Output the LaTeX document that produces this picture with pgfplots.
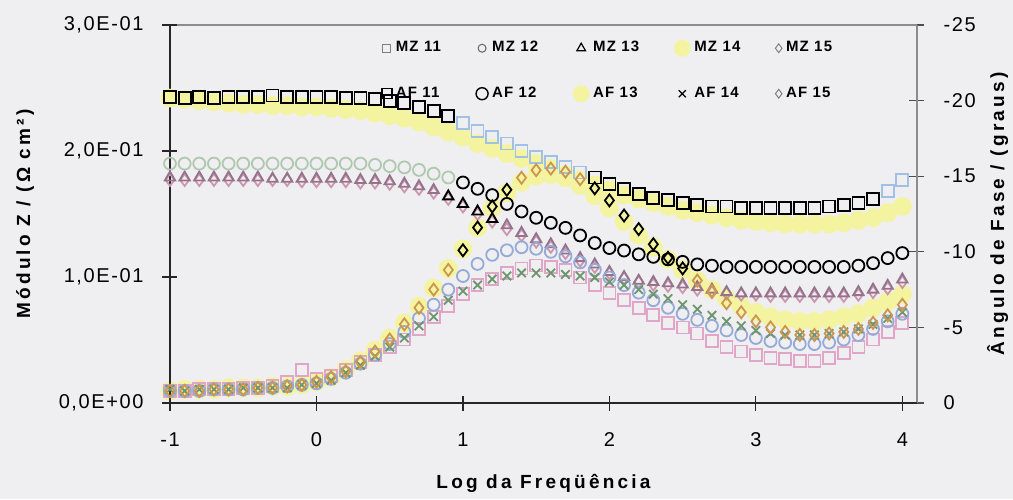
\documentclass[border=0pt]{standalone}
\usepackage{fontspec}
\setmainfont{Liberation Sans}
\usepackage{pgfplots}
\usepackage{pgfplotstable}
\pgfplotsset{compat=1.18}
\newfontfamily\tickf[LetterSpace=8]{Liberation Sans}
\newfontfamily\labf[LetterSpace=17]{Liberation Sans}

\definecolor{bg}{RGB}{239,239,241}
\definecolor{ylw}{RGB}{244,244,160}
\definecolor{lblue}{RGB}{160,192,228}
\definecolor{lgreen}{RGB}{176,200,176}
\definecolor{mauve}{RGB}{150,115,140}
\definecolor{pinkd}{RGB}{205,150,175}
\definecolor{pinks}{RGB}{225,165,200}
\definecolor{bluec}{RGB}{150,170,215}
\definecolor{greenx}{RGB}{110,150,110}
\definecolor{tanc}{RGB}{205,150,80}

\pgfplotstableread{
x mz11 mz12 mz13 mz14 mz15 af11 af12 af13 af14 af15
-1.0 .243 .190 .179 .242 .177 -0.8 -0.8 -0.8 -0.9 -0.8
-0.9 .242 .190 .179 .241 .177 -0.8 -0.8 -0.9 -0.8 -0.8
-0.8 .243 .190 .179 .240 .177 -0.9 -0.8 -0.9 -0.9 -0.8
-0.7 .242 .190 .179 .239 .177 -0.9 -0.9 -0.9 -0.9 -0.9
-0.6 .243 .190 .179 .238 .177 -0.9 -0.9 -1.0 -0.9 -0.9
-0.5 .243 .190 .179 .237 .177 -1.0 -0.9 -1.0 -1.0 -0.9
-0.4 .243 .190 .179 .237 .177 -1.0 -1.0 -1.0 -1.0 -1.0
-0.3 .244 .190 .178 .236 .177 -1.1 -1.0 -1.1 -1.0 -1.0
-0.2 .243 .190 .178 .236 .177 -1.4 -1.1 -1.1 -1.0 -1.1
-0.1 .243 .190 .178 .235 .176 -2.2 -1.2 -1.2 -1.2 -1.2
0.0 .243 .190 .178 .235 .176 -1.6 -1.3 -1.4 -1.3 -1.4
0.1 .243 .190 .178 .234 .176 -1.8 -1.6 -1.7 -1.5 -1.7
0.2 .242 .190 .178 .233 .176 -2.2 -2.0 -2.2 -2.0 -2.1
0.3 .242 .190 .177 .232 .175 -2.7 -2.6 -2.8 -2.5 -2.7
0.4 .241 .189 .177 .230 .175 -3.2 -3.2 -3.5 -3.1 -3.4
0.5 .240 .188 .176 .228 .174 -3.7 -3.9 -4.3 -3.7 -4.2
0.6 .238 .187 .174 .226 .172 -4.2 -4.7 -5.3 -4.3 -5.2
0.7 .235 .185 .172 .223 .170 -4.9 -5.6 -6.4 -5.1 -6.3
0.8 .232 .182 .169 .219 .167 -5.7 -6.5 -7.6 -5.7 -7.5
0.9 .228 .179 .164 .215 .162 -6.4 -7.5 -8.9 -6.8 -8.8
1.0 .222 .175 .158 .211 .156 -7.2 -8.4 -10.2 -7.4 -10.1
1.1 .216 .170 .152 .206 .150 -7.8 -9.2 -11.6 -7.8 -11.6
1.2 .211 .165 .146 .202 .144 -8.2 -9.8 -12.9 -8.2 -13.0
1.3 .206 .158 .141 .198 .138 -8.6 -10.1 -13.9 -8.4 -14.1
1.4 .200 .152 .135 .194 .133 -8.9 -10.3 -14.6 -8.6 -14.9
1.5 .195 .147 .130 .190 .128 -9.1 -10.2 -15.0 -8.6 -15.4
1.6 .191 .143 .126 .186 .124 -9.0 -10.0 -15.1 -8.6 -15.5
1.7 .187 .139 .121 .181 .119 -8.8 -9.7 -14.9 -8.5 -15.3
1.8 .183 .133 .115 .177 .113 -8.3 -9.3 -14.4 -8.4 -14.8
1.9 .179 .127 .110 .173 .108 -7.8 -8.8 -13.7 -8.3 -14.2
2.0 .174 .123 .104 .169 .103 -7.3 -8.3 -12.9 -8.0 -13.4
2.1 .170 .121 .100 .165 .099 -6.8 -7.8 -12.0 -7.8 -12.4
2.2 .166 .118 .097 .162 .096 -6.3 -7.3 -11.1 -7.5 -11.5
2.3 .163 .116 .096 .159 .094 -5.8 -6.8 -10.3 -7.2 -10.5
2.4 .161 .114 .095 .156 .093 -5.3 -6.3 -9.5 -6.9 -9.6
2.5 .159 .112 .094 .153 .092 -5.0 -5.9 -8.8 -6.5 -8.9
2.6 .157 .110 .092 .151 .090 -4.6 -5.5 -8.1 -6.2 -8.1
2.7 .156 .109 .090 .149 .088 -4.1 -5.1 -7.5 -5.8 -7.4
2.8 .156 .108 .088 .147 .087 -3.7 -4.8 -6.9 -5.4 -6.6
2.9 .155 .108 .087 .145 .086 -3.4 -4.5 -6.4 -5.1 -6.0
3.0 .155 .108 .087 .144 .086 -3.2 -4.3 -6.0 -4.8 -5.4
3.1 .155 .108 .087 .143 .085 -3.0 -4.1 -5.7 -4.6 -5.0
3.2 .155 .108 .087 .142 .085 -2.9 -4.0 -5.5 -4.5 -4.7
3.3 .155 .108 .087 .142 .085 -2.8 -3.9 -5.4 -4.5 -4.5
3.4 .155 .108 .087 .142 .085 -2.8 -3.9 -5.4 -4.5 -4.5
3.5 .156 .108 .087 .142 .085 -3.0 -4.0 -5.5 -4.6 -4.6
3.6 .157 .108 .087 .143 .085 -3.3 -4.2 -5.7 -4.7 -4.7
3.7 .159 .109 .088 .145 .086 -3.7 -4.5 -5.9 -4.9 -4.9
3.8 .162 .111 .090 .147 .088 -4.2 -4.9 -6.3 -5.2 -5.3
3.9 .168 .115 .093 .151 .091 -4.7 -5.4 -6.7 -5.6 -5.8
4.0 .177 .119 .098 .156 .096 -5.3 -5.9 -7.2 -6.0 -6.5
}\data

\pgfplotsset{
  base/.style={width=373.5pt, height=189pt, scale only axis, xmin=-1, xmax=4.1,
    at={(0,0)}, anchor=south west, clip=false,
    major tick length=7.5pt, tick align=center,
    tick label style={font=\tickf\fontsize{10}{12}\selectfont},
  },
  pm/.style={only marks, mark size=3pt, line width=0.9pt},
}

\begin{document}
\begin{tikzpicture}
\path[use as bounding box, fill=bg] (-85pt,-48pt) rectangle (421.5pt,201.5pt);

% axis A: phase scale, right axis, yellow AF 13 underneath
\begin{axis}[base, ymin=-25, ymax=0, y dir=reverse,
  axis y line*=right, axis x line*=top, xtick=\empty,
  ytick={-25,-20,-15,-10,-5,0}, yticklabels={-25,-20,-15,-10,-5,0},
  yticklabel style={xshift=6pt},
  axis line style={black!45, line width=0.6pt},
  ytick style={black!70, line width=0.6pt},
  every axis y label/.style={at={(axis description cs:1.108,0.5)}, rotate=90, anchor=center},
  ylabel={\labf\bfseries\fontsize{9.5}{11}\selectfont Ângulo de Fase / (graus)},
]
\addplot[only marks, mark=*, mark size=4.5pt, color=ylw] table[x=x,y=af13]{\data};
\end{axis}

% axis B: modulus scale, left axis
\begin{axis}[base, ymin=0, ymax=0.3,
  axis x line*=bottom, axis y line*=left,
  xtick={-1,0,1,2,3,4}, xticklabels={-1,0,1,2,3,4},
  ytick={0,0.1,0.2,0.3}, yticklabels={{0,0E+00},{1,0E-01},{2,0E-01},{3,0E-01}},
  yticklabel style={xshift=-6pt},
  xticklabel style={yshift=-7.5pt},
  axis line style={black!85, line width=0.8pt},
  tick style={black!85, line width=0.6pt},
  every axis y label/.style={at={(axis description cs:-0.194,0.5)}, rotate=90, anchor=center},
  every axis x label/.style={at={(axis description cs:0.5,-0.214)}, anchor=center},
  ylabel={\labf\bfseries\fontsize{9.5}{11}\selectfont Módulo Z / (Ω cm²)},
  xlabel={\labf\bfseries\fontsize{9.5}{11}\selectfont Log da Freqüência},
]
\addplot[only marks, mark=*, mark size=4.5pt, color=ylw] table[x=x,y=mz14]{\data};
\addplot[pm, mark=diamond, pinkd] table[x=x,y=mz15]{\data};
\addplot[pm, mark=triangle, mauve, restrict x to domain=-1.05:0.85] table[x=x,y=mz13]{\data};
\addplot[pm, mark=triangle, black, restrict x to domain=0.85:1.25] table[x=x,y=mz13]{\data};
\addplot[pm, mark=triangle, mauve, restrict x to domain=1.25:4.05] table[x=x,y=mz13]{\data};
\addplot[pm, mark=o, lgreen, restrict x to domain=-1.05:0.95] table[x=x,y=mz12]{\data};
\addplot[pm, mark=o, black, restrict x to domain=0.95:4.05] table[x=x,y=mz12]{\data};
\addplot[pm, mark=square, black, restrict x to domain=-1.05:0.95] table[x=x,y=mz11]{\data};
\addplot[pm, mark=square, lblue, restrict x to domain=0.95:1.85] table[x=x,y=mz11]{\data};
\addplot[pm, mark=square, black, restrict x to domain=1.85:3.85] table[x=x,y=mz11]{\data};
\addplot[pm, mark=square, lblue, restrict x to domain=3.85:4.05] table[x=x,y=mz11]{\data};
\end{axis}

% axis C: phase scale, other AF series and legend
\begin{axis}[base, ymin=-25, ymax=0, y dir=reverse, hide axis,
  legend style={draw=none, fill=none, at={(0.283,0.968)}, anchor=north west,
    font=\tickf\bfseries\fontsize{7.5}{9}\selectfont, inner sep=0pt, row sep=12pt,
    /tikz/every even column/.append style={column sep=15.5pt}},
  legend columns=5, legend cell align=left,
  legend image code/.code={\draw[mark repeat=2,mark phase=2,#1] plot coordinates {(0pt,0pt) (4pt,0pt) (8pt,0pt)};},
]
\addlegendimage{only marks, mark=square, mark size=2pt, gray, line width=0.5pt}
\addlegendentry{MZ 11}
\addlegendimage{only marks, mark=o, mark size=2pt, gray!80!black, line width=0.5pt}
\addlegendentry{MZ 12}
\addlegendimage{only marks, mark=triangle, mark size=2.5pt, black, line width=0.6pt}
\addlegendentry{MZ 13}
\addlegendimage{only marks, mark=*, mark size=4pt, ylw}
\addlegendentry{MZ 14}
\addlegendimage{only marks, mark=diamond, mark size=2.2pt, gray, line width=0.5pt}
\addlegendentry{MZ 15}
\addlegendimage{only marks, mark=square, mark size=2.5pt, black, line width=0.7pt}
\addlegendentry{AF 11}
\addlegendimage{only marks, mark=o, mark size=3pt, black, line width=0.7pt}
\addlegendentry{AF 12}
\addlegendimage{only marks, mark=*, mark size=4pt, ylw}
\addlegendentry{AF 13}
\addlegendimage{only marks, mark=x, mark size=2.5pt, black, line width=0.6pt}
\addlegendentry{AF 14}
\addlegendimage{only marks, mark=diamond, mark size=2.2pt, gray, line width=0.5pt}
\addlegendentry{AF 15}

\addplot[pm, mark=square, pinks, forget plot] table[x=x,y=af11]{\data};
\addplot[pm, mark=o, bluec, forget plot] table[x=x,y=af12]{\data};
\addplot[pm, mark=x, greenx, forget plot] table[x=x,y=af14]{\data};
\addplot[pm, mark=diamond, tanc, forget plot, restrict x to domain=-1.05:0.95] table[x=x,y=af15]{\data};
\addplot[pm, mark=diamond, black, forget plot, restrict x to domain=0.95:1.35] table[x=x,y=af15]{\data};
\addplot[pm, mark=diamond, tanc, forget plot, restrict x to domain=1.35:1.85] table[x=x,y=af15]{\data};
\addplot[pm, mark=diamond, black, forget plot, restrict x to domain=1.85:2.55] table[x=x,y=af15]{\data};
\addplot[pm, mark=diamond, tanc, forget plot, restrict x to domain=2.55:4.05] table[x=x,y=af15]{\data};
\end{axis}
\end{tikzpicture}
\end{document}
